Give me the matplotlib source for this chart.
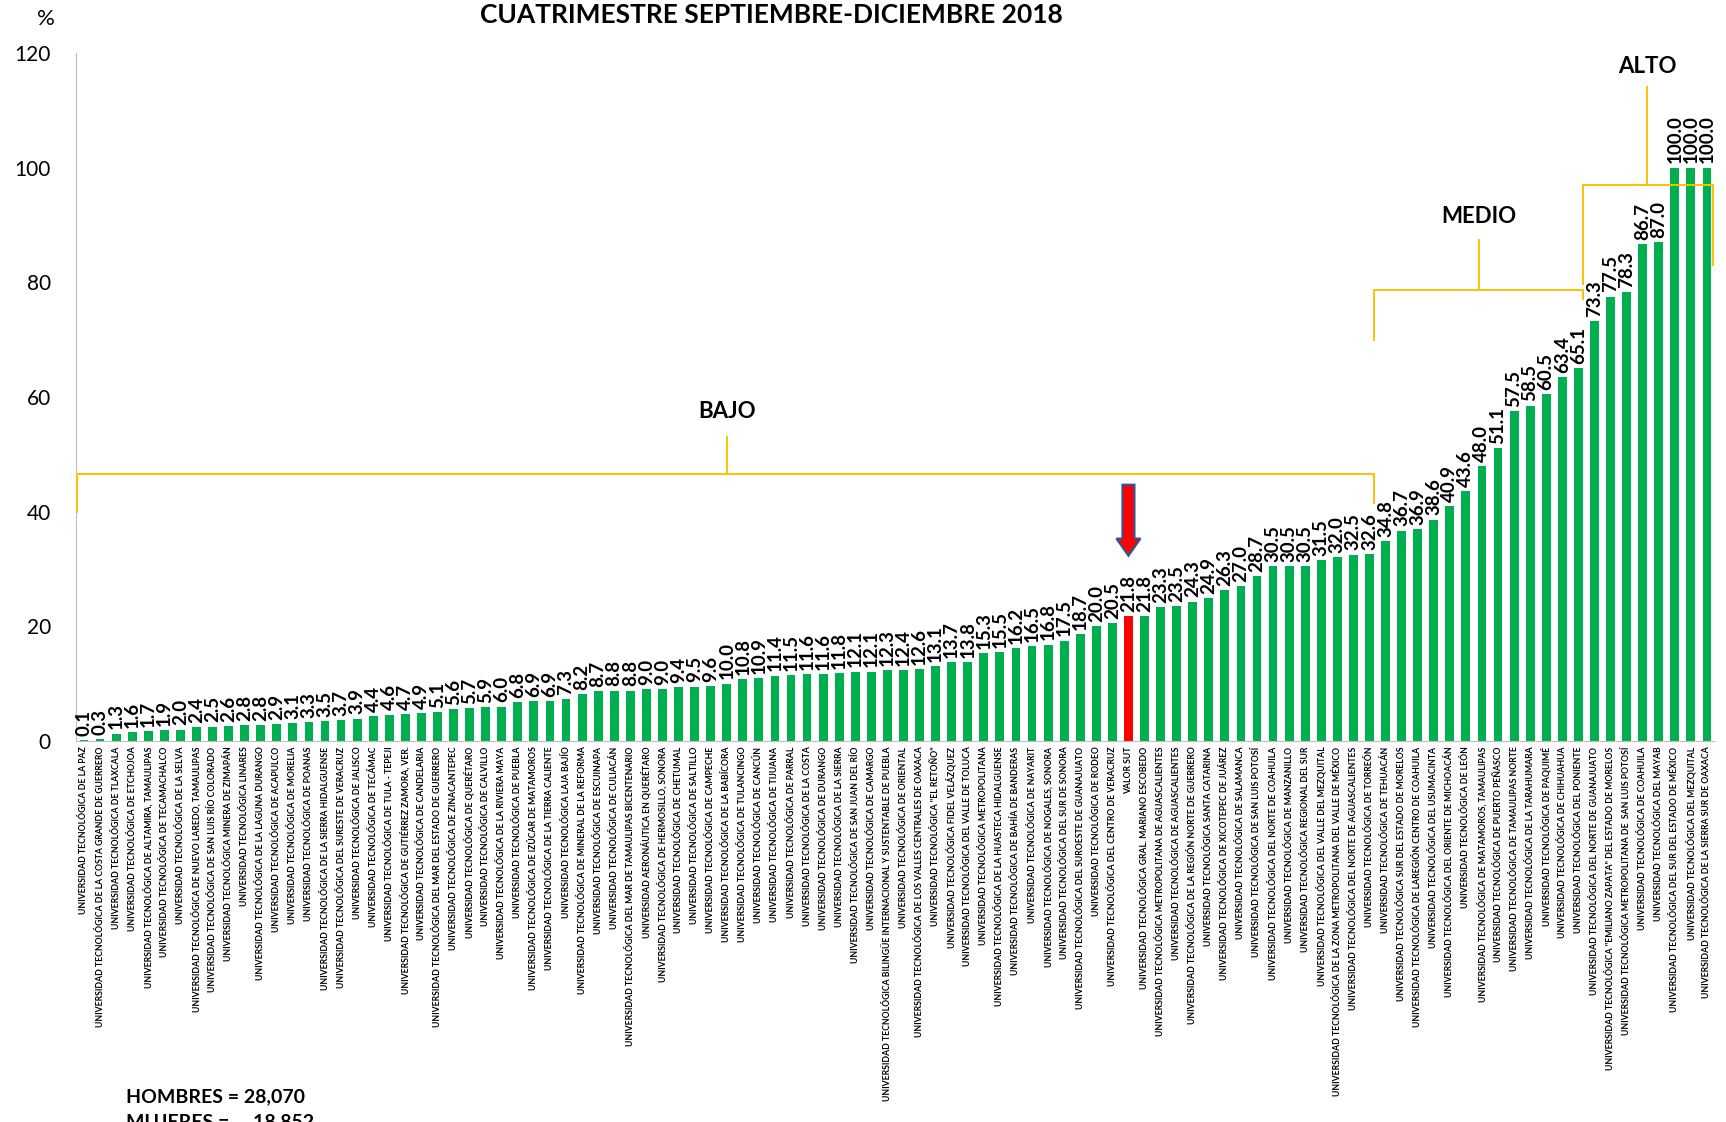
import matplotlib
matplotlib.use("Agg")
import matplotlib.pyplot as plt
import numpy as np

plt.rcParams["font.family"] = ["Lato", "DejaVu Sans"]

# ── Data ──────────────────────────────────────────────────────────────────────
TITLE = "CUATRIMESTRE SEPTIEMBRE-DICIEMBRE 2018"

UNIVERSIDADES = [
    "UNIVERSIDAD TECNOLÓGICA DE LA PAZ",
    "UNIVERSIDAD TECNOLÓGICA DE LA COSTA GRANDE DE GUERRERO",
    "UNIVERSIDAD TECNOLÓGICA DE TLAXCALA",
    "UNIVERSIDAD TECNOLÓGICA DE ETCHOJOA",
    "UNIVERSIDAD TECNOLÓGICA DE ALTAMIRA, TAMAULIPAS",
    "UNIVERSIDAD TECNOLÓGICA DE TECAMACHALCO",
    "UNIVERSIDAD TECNOLÓGICA DE LA SELVA",
    "UNIVERSIDAD TECNOLÓGICA DE NUEVO LAREDO, TAMAULIPAS",
    "UNIVERSIDAD TECNOLÓGICA DE SAN LUIS RÍO COLORADO",
    "UNIVERSIDAD TECNOLÓGICA MINERA DE ZIMAPÁN",
    "UNIVERSIDAD TECNOLÓGICA LINARES",
    "UNIVERSIDAD TECNOLÓGICA DE LA LAGUNA DURANGO",
    "UNIVERSIDAD TECNOLÓGICA DE ACAPULCO",
    "UNIVERSIDAD TECNOLÓGICA DE MORELIA",
    "UNIVERSIDAD TECNOLÓGICA DE POANAS",
    "UNIVERSIDAD TECNOLÓGICA DE LA SIERRA HIDALGUENSE",
    "UNIVERSIDAD TECNOLÓGICA DEL SURESTE DE VERACRUZ",
    "UNIVERSIDAD TECNOLÓGICA DE JALISCO",
    "UNIVERSIDAD TECNOLÓGICA DE TECÁMAC",
    "UNIVERSIDAD TECNOLÓGICA DE TULA - TEPEJI",
    "UNIVERSIDAD TECNOLÓGICA DE GUTIÉRREZ ZAMORA, VER.",
    "UNIVERSIDAD TECNOLÓGICA DE CANDELARIA",
    "UNIVERSIDAD TECNOLÓGICA DEL MAR DEL ESTADO DE GUERRERO",
    "UNIVERSIDAD TECNOLÓGICA DE ZINACANTEPEC",
    "UNIVERSIDAD TECNOLÓGICA DE QUERÉTARO",
    "UNIVERSIDAD TECNOLÓGICA DE CALVILLO",
    "UNIVERSIDAD TECNOLÓGICA DE LA RIVIERA MAYA",
    "UNIVERSIDAD TECNOLÓGICA DE PUEBLA",
    "UNIVERSIDAD TECNOLÓGICA DE IZÚCAR DE MATAMOROS",
    "UNIVERSIDAD TECNOLÓGICA DE LA TIERRA CALIENTE",
    "UNIVERSIDAD TECNOLÓGICA LAJA BAJÍO",
    "UNIVERSIDAD TECNOLÓGICA DE MINERAL DE LA REFORMA",
    "UNIVERSIDAD TECNOLÓGICA DE ESCUINAPA",
    "UNIVERSIDAD TECNOLÓGICA DE CULIACÁN",
    "UNIVERSIDAD TECNOLÓGICA DEL MAR DE TAMAULIPAS BICENTENARIO",
    "UNIVERSIDAD AERONÁUTICA EN QUERÉTARO",
    "UNIVERSIDAD TECNOLÓGICA DE HERMOSILLO, SONORA",
    "UNIVERSIDAD TECNOLÓGICA DE CHETUMAL",
    "UNIVERSIDAD TECNOLÓGICA DE SALTILLO",
    "UNIVERSIDAD TECNOLÓGICA DE CAMPECHE",
    "UNIVERSIDAD TECNOLÓGICA DE LA BABÍCORA",
    "UNIVERSIDAD TECNOLÓGICA DE TULANCINGO",
    "UNIVERSIDAD TECNOLÓGICA DE CANCÚN",
    "UNIVERSIDAD TECNOLÓGICA DE TIJUANA",
    "UNIVERSIDAD TECNOLÓGICA DE PARRAL",
    "UNIVERSIDAD TECNOLÓGICA DE LA COSTA",
    "UNIVERSIDAD TECNOLÓGICA DE DURANGO",
    "UNIVERSIDAD TECNOLÓGICA DE LA SIERRA",
    "UNIVERSIDAD TECNOLÓGICA DE SAN JUAN DEL RÍO",
    "UNIVERSIDAD TECNOLÓGICA DE CAMARGO",
    "UNIVERSIDAD TECNOLÓGICA BILINGÜE INTERNACIONAL Y SUSTENTABLE DE PUEBLA",
    "UNIVERSIDAD TECNOLÓGICA DE ORIENTAL",
    "UNIVERSIDAD TECNOLÓGICA DE LOS VALLES CENTRALES DE OAXACA",
    "UNIVERSIDAD TECNOLÓGICA \"EL RETOÑO\"",
    "UNIVERSIDAD TECNOLÓGICA FIDEL VELÁZQUEZ",
    "UNIVERSIDAD TECNOLÓGICA DEL VALLE DE TOLUCA",
    "UNIVERSIDAD TECNOLÓGICA METROPOLITANA",
    "UNIVERSIDAD TECNOLÓGICA DE LA HUASTECA HIDALGUENSE",
    "UNIVERSIDAD TECNOLÓGICA DE BAHÍA DE BANDERAS",
    "UNIVERSIDAD TECNOLÓGICA DE NAYARIT",
    "UNIVERSIDAD TECNOLÓGICA DE NOGALES, SONORA",
    "UNIVERSIDAD TECNOLÓGICA DEL SUR DE SONORA",
    "UNIVERSIDAD TECNOLÓGICA DEL SUROESTE DE GUANAJUATO",
    "UNIVERSIDAD TECNOLÓGICA DE RODEO",
    "UNIVERSIDAD TECNOLÓGICA DEL CENTRO DE VERACRUZ",
    "VALOR SUT",
    "UNIVERSIDAD TECNOLÓGICA GRAL. MARIANO ESCOBEDO",
    "UNIVERSIDAD TECNOLÓGICA METROPOLITANA DE AGUASCALIENTES",
    "UNIVERSIDAD TECNOLÓGICA DE AGUASCALIENTES",
    "UNIVERSIDAD TECNOLÓGICA DE LA REGIÓN NORTE DE GUERRERO",
    "UNIVERSIDAD TECNOLÓGICA SANTA CATARINA",
    "UNIVERSIDAD TECNOLÓGICA DE XICOTEPEC DE JUÁREZ",
    "UNIVERSIDAD TECNOLÓGICA DE SALAMANCA",
    "UNIVERSIDAD TECNOLÓGICA DE SAN LUIS POTOSÍ",
    "UNIVERSIDAD TECNOLÓGICA DEL NORTE DE COAHUILA",
    "UNIVERSIDAD TECNOLÓGICA DE MANZANILLO",
    "UNIVERSIDAD TECNOLÓGICA REGIONAL DEL SUR",
    "UNIVERSIDAD TECNOLÓGICA DEL VALLE DEL MEZQUITAL",
    "UNIVERSIDAD TECNOLÓGICA DE LA ZONA METROPOLITANA DEL VALLE DE MÉXICO",
    "UNIVERSIDAD TECNOLÓGICA DEL NORTE DE AGUASCALIENTES",
    "UNIVERSIDAD TECNOLÓGICA DE TORREÓN",
    "UNIVERSIDAD TECNOLÓGICA DE TEHUACÁN",
    "UNIVERSIDAD TECNOLÓGICA SUR DEL ESTADO DE MORELOS",
    "UNIVERSIDAD TECNOLÓGICA DE LAREGIÓN CENTRO DE COAHUILA",
    "UNIVERSIDAD TECNOLÓGICA DEL USUMACINTA",
    "UNIVERSIDAD TECNOLÓGICA DEL ORIENTE DE MICHOACÁN",
    "UNIVERSIDAD TECNOLÓGICA DE LEÓN",
    "UNIVERSIDAD TECNOLÓGICA DE MATAMOROS, TAMAULIPAS",
    "UNIVERSIDAD TECNOLÓGICA DE PUERTO PEÑASCO",
    "UNIVERSIDAD TECNOLÓGICA DE TAMAULIPAS NORTE",
    "UNIVERSIDAD TECNOLÓGICA DE LA TARAHUMARA",
    "UNIVERSIDAD TECNOLÓGICA DE PAQUIMÉ",
    "UNIVERSIDAD TECNOLÓGICA DE CHIHUAHUA",
    "UNIVERSIDAD TECNOLÓGICA DEL PONIENTE",
    "UNIVERSIDAD TECNOLÓGICA DEL NORTE DE GUANAJUATO",
    "UNIVERSIDAD TECNOLÓGICA \"EMILIANO ZAPATA\" DEL ESTADO DE MORELOS",
    "UNIVERSIDAD TECNOLÓGICA METROPOLITANA DE  SAN LUIS POTOSÍ",
    "UNIVERSIDAD TECNOLÓGICA DE COAHUILA",
    "UNIVERSIDAD TECNOLÓGICA DEL MAYAB",
    "UNIVERSIDAD TECNOLÓGICA DEL SUR DEL ESTADO DE MÉXICO",
    "UNIVERSIDAD TECNOLÓGICA DEL MEZQUITAL",
    "UNIVERSIDAD TECNOLÓGICA DE LA SIERRA SUR DE OAXACA",
]

PORCENTAJES = [
    0.1, 0.3, 1.3, 1.6, 1.7, 1.9, 2.0, 2.4, 2.5, 2.6,
    2.8, 2.8, 2.9, 3.1, 3.3, 3.5, 3.7, 3.9, 4.4, 4.6,
    4.7, 4.9, 5.1, 5.6, 5.7, 5.9, 6.0, 6.8, 6.9, 6.9,
    7.3, 8.2, 8.7, 8.8, 8.8, 9.0, 9.0, 9.4, 9.5, 9.6,
    10.0, 10.8, 10.9, 11.4, 11.5, 11.6, 11.6, 11.8, 12.1, 12.1,
    12.3, 12.4, 12.6, 13.1, 13.7, 13.8, 15.3, 15.5, 16.2, 16.5,
    16.8, 17.5, 18.7, 20.0, 20.5, 21.8, 21.8, 23.3, 23.5, 24.3,
    24.9, 26.3, 27.0, 28.7, 30.5, 30.5, 30.5, 31.5, 32.0, 32.5,
    32.6, 34.8, 36.7, 36.9, 38.6, 40.9, 43.6, 48.0, 51.1, 57.5,
    58.5, 60.5, 63.4, 65.1, 73.3, 77.5, 78.3, 86.7, 87.0, 100.0,
    100.0, 100.0,
]

REFERENCIA = "VALOR SUT"
Y_TICKS = [0, 20, 40, 60, 80, 100, 120]
HOMBRES = "28,070"
MUJERES = "18,852"

GREEN = "#00B050"
RED = "#FF0000"
GOLD = "#FFC000"

# ── Figure ────────────────────────────────────────────────────────────────────
fig = plt.figure(figsize=(17.26, 11.22), dpi=100)
ax = fig.add_axes([0.044, 0.3396, 0.9496, 0.6132])

x = np.arange(len(PORCENTAJES))
colors = [RED if n == REFERENCIA else GREEN for n in UNIVERSIDADES]
ax.bar(x, PORCENTAJES, width=0.55, color=colors, zorder=2)

for xi, v in zip(x, PORCENTAJES):
    ax.annotate(f"{v:.1f}", (xi, v), xytext=(0, 3), textcoords="offset points",
                rotation=90, ha="center", va="bottom",
                fontsize=13.5, fontweight="bold", color="black")

ax.set_xlim(-0.5, len(PORCENTAJES) - 0.5)
ax.set_ylim(0, 120)
ax.set_yticks(Y_TICKS)
ax.tick_params(axis="y", length=0, pad=18, labelsize=15)
ax.set_xticks(x)
ax.set_xticklabels(UNIVERSIDADES, rotation=90, fontsize=6.2, fontweight="bold")
ax.tick_params(axis="x", length=0, pad=4)

for s in ["top", "right"]:
    ax.spines[s].set_visible(False)
ax.spines["left"].set_color("#BFBFBF")
ax.spines["bottom"].set_color("#BFBFBF")

# ── Group brackets ────────────────────────────────────────────────────────────
def bracket(x0, x1, y, y_left, y_right, xc, y_top, label, label_y):
    ax.plot([x0, x0, x1, x1], [y_left, y, y, y_right], color=GOLD, lw=1.4,
            clip_on=False, zorder=3)
    ax.plot([xc, xc], [y, y_top], color=GOLD, lw=1.4, clip_on=False, zorder=3)
    ax.text(xc, label_y, label, ha="center", va="center", fontsize=16,
            fontweight="bold")

bracket(-0.45, 80.3, 46.5, 40.0, 41.5, 40.0, 53.0, "BAJO", 57.5)
bracket(80.3, 93.3, 78.7, 70.0, 77.0, 86.8, 87.4, "MEDIO", 91.5)
bracket(93.3, 101.4, 97.0, 79.7, 83.0, 97.3, 114.0, "ALTO", 117.7)

# ── Arrow on reference bar ────────────────────────────────────────────────────
ref = UNIVERSIDADES.index(REFERENCIA)
ax.arrow(ref, 44.7, 0, -9.4, width=0.75, head_width=1.5, head_length=3.0,
         length_includes_head=False, facecolor=RED, edgecolor="#2F5597",
         lw=1.5, zorder=4)

# ── Texts ─────────────────────────────────────────────────────────────────────
fig.text(0.447, 1 - 27 / 1122, TITLE, ha="center", va="bottom",
         fontsize=19, fontweight="bold")
fig.text(46 / 1726, 1 - 19 / 1122, "%", ha="center", va="center", fontsize=16)
fig.text(126 / 1726, 1 - 1097 / 1122, f"HOMBRES = {HOMBRES}", ha="left",
         va="center", fontsize=14, fontweight="bold")
fig.text(126 / 1726, 1 - 1122 / 1122, f"MUJERES =     {MUJERES}", ha="left",
         va="center", fontsize=14, fontweight="bold")

fig.savefig("out.png", dpi=100)
